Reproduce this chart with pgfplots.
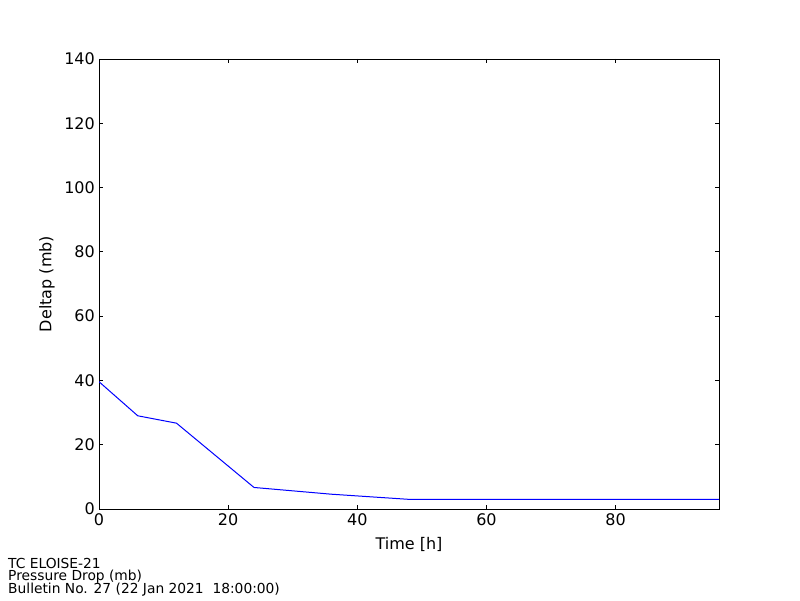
\documentclass[border=0pt]{standalone}
\usepackage{pgfplots}
\pgfplotsset{compat=1.18}
\usepackage{fontspec}
\setmainfont{DejaVu Sans}
\begin{document}
\begin{tikzpicture}[x=1pt,y=1pt]
\path[use as bounding box] (0,0) rectangle (800,600);
\begin{axis}[
  at={(99pt,91pt)}, anchor=south west,
  scale only axis, width=620pt, height=450pt,
  xmin=0, xmax=96, ymin=0, ymax=140,
  xtick={0,20,40,60,80}, ytick={0,20,40,60,80,100,120,140},
  tick align=inside, major tick length=4pt,
  tick pos=both, xticklabel pos=left, yticklabel pos=left,
  axis line style={line width=0.8pt}, every tick/.style={black, line width=0.8pt},
  /pgf/number format/assume math mode=true,
  ticklabel style={font=\fontsize{16}{19}\selectfont},
  xticklabel style={inner sep=1pt, yshift=-3pt},
  yticklabel style={inner sep=1pt, xshift=-3pt},
  label style={font=\fontsize{16}{19}\selectfont},
  xlabel={Time [h]}, ylabel={Deltap (mb)},
  xlabel style={at={(axis description cs:0.5,-0.0889)}, anchor=base},
  ylabel style={at={(axis description cs:-0.0839,0.5)}, anchor=center},
]
\addplot[blue, line width=1pt, mark=none] coordinates {
(0,39.6) (6,29.0) (12,26.7) (24,6.7) (36,4.6) (48,3.0) (60,3.0) (72,3.0) (84,3.0) (96,3.0)
};
\end{axis}
\node[anchor=base west, inner sep=0pt, font=\fontsize{13.8}{16}\selectfont] at (8,31.5) {TC ELOISE-21};
\node[anchor=base west, inner sep=0pt, font=\fontsize{13.8}{16}\selectfont] at (8,19.5) {Pressure Drop (mb)};
\node[anchor=base west, inner sep=0pt, font=\fontsize{13.8}{16}\selectfont] at (8,7) {Bulletin No. 27 (22 Jan 2021\ \ 18:00:00)};
\end{tikzpicture}
\end{document}
